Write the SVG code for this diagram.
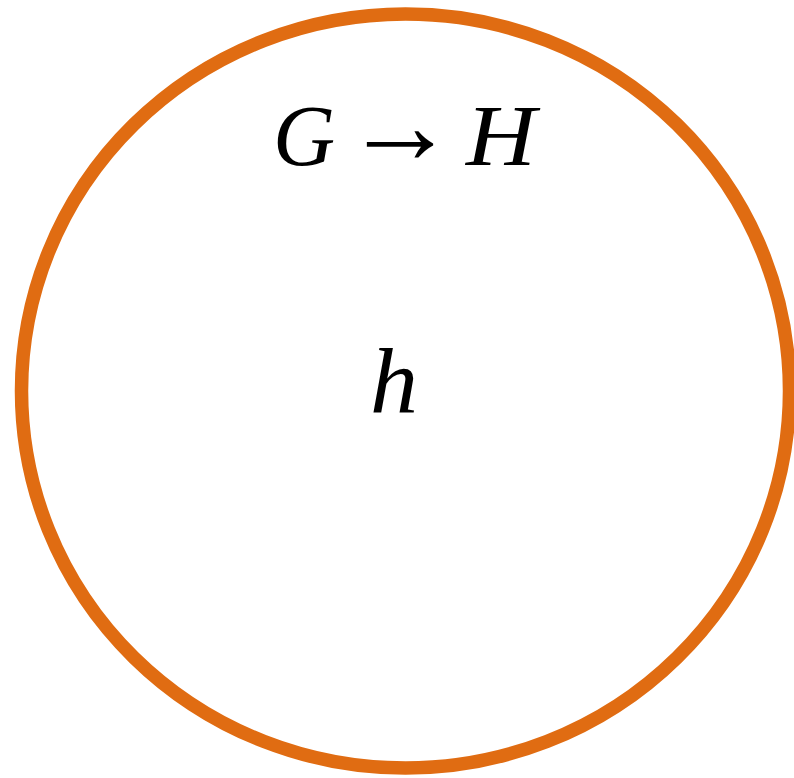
<svg xmlns="http://www.w3.org/2000/svg" width="794" height="778" viewBox="0 0 794 778">
<style>
.m{font-family:"Liberation Serif","DejaVu Serif",serif;fill:#000}
.i{font-style:italic}
</style>
<rect width="794" height="778" fill="#fff"/>
<g id="node-h">
<ellipse cx="405.5" cy="391" rx="384" ry="377" fill="#fff" stroke="#e06c12" stroke-width="13.5"/>
<text class="m i" font-size="86" x="273" y="165">G</text>
<text class="m" font-size="112" x="344" y="162.5">→</text>
<text class="m i" font-size="86" x="466" y="165" textLength="70" lengthAdjust="spacingAndGlyphs">H</text>
<text class="m i" font-size="94" x="370" y="413" textLength="48" lengthAdjust="spacingAndGlyphs">h</text>
</g>
</svg>
